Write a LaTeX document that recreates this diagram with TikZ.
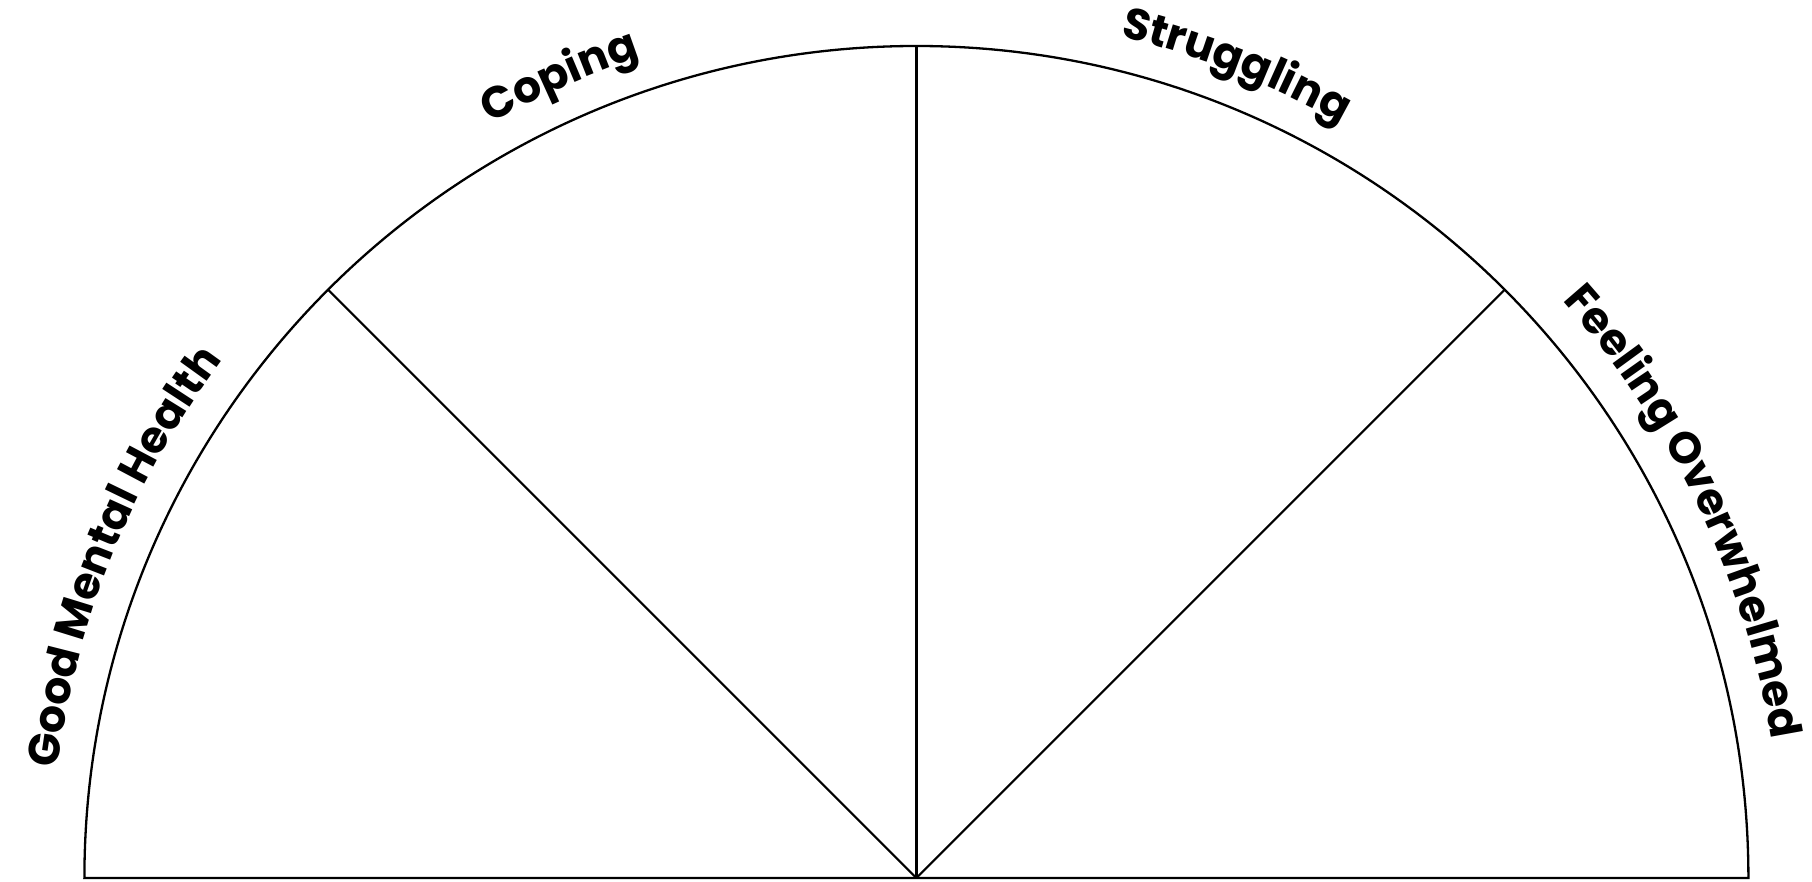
\documentclass[tikz,border=0pt]{standalone}
\usepackage{fontspec}
\newfontfamily\popfont{Poppins}
\usetikzlibrary{decorations.text}
\tikzset{
  rimline/.style={line width=2.3pt, black},
  spokeline/.style={line width=2.1pt, black},
  midspoke/.style={line width=3.2pt, black},
  arclabel/.style={decorate, decoration={text along path, text align=center, text={#1}}}
}
\begin{document}
\begin{tikzpicture}[x=1pt,y=1pt]
\useasboundingbox (0,0) rectangle (1812,881);
\coordinate (c) at (916.4,3);
\coordinate (L) at ([shift={(180:832)}]c);
\coordinate (R) at ([shift={(0:832)}]c);
\coordinate (a135) at ([shift={(135:832)}]c);
\coordinate (a90) at ([shift={(90:832)}]c);
\coordinate (a45) at ([shift={(45:832)}]c);
% rim
\draw[rimline] (L) -- (R) arc[start angle=0, end angle=180, radius=832] -- cycle;
% spokes
\draw[spokeline] (c) -- (a135);
\draw[spokeline] (c) -- (a45);
\draw[midspoke] (c) -- (a90);
% labels
{\popfont\bfseries\fontsize{44}{48}\selectfont
\path[arclabel={Good Mental Health}] ([shift={(198:866)}]c) arc[start angle=198, end angle=118, radius=866];
\path[arclabel={Coping}] ([shift={(154:866)}]c) arc[start angle=154, end angle=74, radius=866];
\path[arclabel={Struggling}] ([shift={(108.5:866)}]c) arc[start angle=108.5, end angle=28.5, radius=866];
\path[arclabel={Feeling Overwhelmed}] ([shift={(65.5:866)}]c) arc[start angle=65.5, end angle=-14.5, radius=866];
}
\end{tikzpicture}
\end{document}
